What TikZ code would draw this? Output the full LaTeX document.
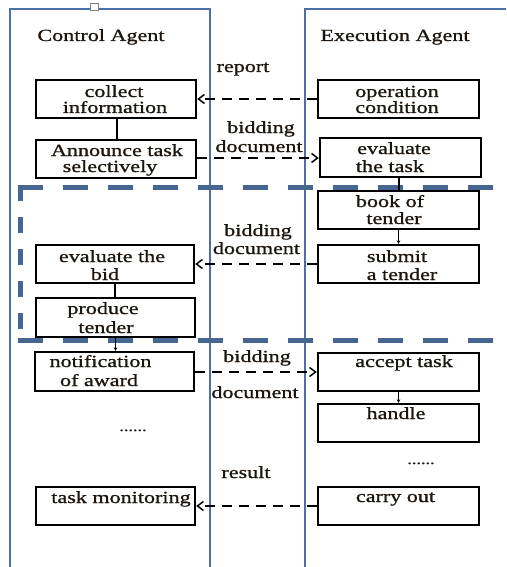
\documentclass[tikz,border=0pt]{standalone}
\usepackage{fontspec}
\setmainfont[FakeStretch=1.3,FakeBold=1.0]{Liberation Serif}
\usetikzlibrary{arrows.meta}
\definecolor{panelblue}{RGB}{74,112,168}
\definecolor{dashblue}{RGB}{68,102,145}
\definecolor{txt}{RGB}{30,22,14}
\tikzset{
  box/.style={draw=black, line width=2.4pt, minimum width=160pt, minimum height=38pt, inner sep=0pt},
  lbl/.style={anchor=base, text=txt, inner sep=0pt, font=\fontsize{17pt}{17pt}\selectfont},
  panel/.style={draw=panelblue, line width=2pt},
  regionh/.style={draw=dashblue, line width=5pt, dash pattern=on 25pt off 20pt},
  regionv/.style={draw=dashblue, line width=5pt, dash pattern=on 16pt off 16pt},
  msg/.style={draw=black, line width=1.5pt, dash pattern=on 10pt off 7pt, -{Straight Barb[length=6pt,width=9pt,line width=1.5pt]}},
  link/.style={draw=black, line width=1.2pt},
  linkarr/.style={draw=black, line width=1.2pt, -{Stealth[length=3.5pt,width=3.5pt]}},
  dots/.style={anchor=base, text=txt, inner sep=0pt, font=\fontsize{14pt}{14pt}\selectfont}
}
\begin{document}
\begin{tikzpicture}[x=1pt,y=-1pt]
\useasboundingbox (0,0) rectangle (506,567);
\fill[white] (0,0) rectangle (506,567);
% panels
\draw[panel] (10,567) -- (10,9) -- (210,9) -- (210,567);
\draw[panel] (305,567) -- (305,9) -- (506,9);
\node[draw=gray, fill=white, line width=0.8pt, minimum width=8pt, minimum height=7pt, inner sep=0pt] (handle) at (94,7) {};
% dashed region
\draw[regionh] (17.5,187) -- (506,187);
\draw[regionh] (17.5,340) -- (506,340);
\draw[regionv] (20,185) -- (20,340);
% titles
\node[lbl] (tca) at (101,41) {Control Agent};
\node[lbl] (tea) at (395,41) {Execution Agent};
% boxes
\node[box] (ci) at (116,99) {};
\node[box] (an) at (116,159) {};
\node[box, minimum width=161pt] (oc) at (398.5,99) {};
\node[box, minimum width=161pt, minimum height=39pt] (et) at (400.5,157.5) {};
\node[box, minimum width=161pt] (bt) at (398.5,210) {};
\node[box, minimum width=161pt] (st) at (398.5,264) {};
\node[box, minimum width=158pt] (eb) at (115,264) {};
\node[box, minimum width=159pt, minimum height=39pt] (pt) at (115.5,317.5) {};
\node[box, minimum width=159pt, minimum height=39pt] (na) at (114.5,371.5) {};
\node[box, minimum width=159pt] (tm) at (115.5,506) {};
\node[box, minimum width=161pt] (at) at (398.5,372) {};
\node[box, minimum width=161pt] (ha) at (398.5,423) {};
\node[box, minimum width=161pt] (co) at (398.5,506) {};
% box texts
\node[lbl] (ci1) at (114,97) {collect};
\node[lbl] (ci2) at (115,113) {information};
\node[lbl] (an1) at (117,156) {Announce task};
\node[lbl] (an2) at (110,172) {selectively};
\node[lbl] (oc1) at (397,97) {operation};
\node[lbl] (oc2) at (397,113) {condition};
\node[lbl] (et1) at (394,154) {evaluate};
\node[lbl] (et2) at (390,172) {the task};
\node[lbl] (bt1) at (390,207) {book of};
\node[lbl] (bt2) at (394,224) {tender};
\node[lbl] (st1) at (397,262) {submit};
\node[lbl] (st2) at (402,280) {a tender};
\node[lbl] (eb1) at (112,262) {evaluate the};
\node[lbl] (eb2) at (105,280) {bid};
\node[lbl] (pt1) at (103,314) {produce};
\node[lbl] (pt2) at (106,333) {tender};
\node[lbl] (na1) at (100.5,367) {notification};
\node[lbl] (na2) at (99,386) {of award};
\node[lbl] (tm1) at (121,503) {task monitoring};
\node[lbl] (at1) at (404,367) {accept task};
\node[lbl] (ha1) at (396,419) {handle};
\node[lbl] (co1) at (395.5,502) {carry out};
% connector labels
\node[lbl] (l1) at (243,72) {report};
\node[lbl] (l2a) at (261,133) {bidding};
\node[lbl] (l2b) at (259,152) {document};
\node[lbl] (l3a) at (258,236) {bidding};
\node[lbl] (l3b) at (256.5,254) {document};
\node[lbl] (l4a) at (257,362) {bidding};
\node[lbl] (l4b) at (255,398) {document};
\node[lbl] (l5) at (246,478) {result};
% ellipses
\node[dots] (d1) at (133,431) {......};
\node[dots] (d2) at (421,464) {......};
% message connectors
\draw[msg] (oc.west) -- (ci.east);
\draw[msg] (an.east |- 0,158) -- (et.west |- 0,158);
\draw[msg] (st.west) -- (eb.east);
\draw[msg] (na.east |- 0,372) -- (at.west);
\draw[msg] (co.west) -- (tm.east);
% internal links
\draw[link] ([xshift=1pt]ci.south) -- ([xshift=1pt]an.north);
\draw[link] (et.south -| 399,0) -- (bt.north -| 399,0);
\draw[linkarr] (bt.south) -- (st.north);
\draw[link] (eb.south) -- (eb.south |- pt.north);
\draw[linkarr] (pt.south) -- (pt.south |- na.north);
\draw[linkarr] (at.south) -- (ha.north);
\end{tikzpicture}
\end{document}
